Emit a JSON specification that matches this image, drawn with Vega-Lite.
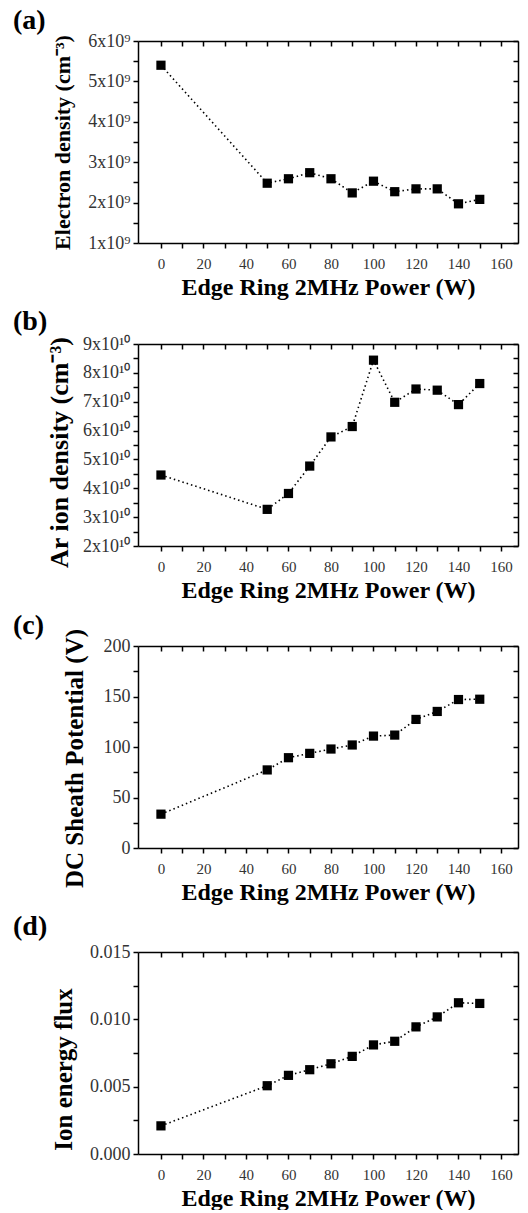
{
  "$schema": "https://vega.github.io/schema/vega-lite/v6.json",
  "padding": {"top": 7, "left": 13, "right": 9, "bottom": 0},
  "spacing": 9,
  "background": "white",
  "config": {
    "view": {"stroke": null},
    "font": "Liberation Serif",
    "axis": {
      "grid": false,
      "labelFont": "Liberation Serif",
      "titleFont": "Liberation Serif",
      "titleFontWeight": "bold",
      "titleColor": "black",
      "labelColor": "#333",
      "domainColor": "black",
      "domainWidth": 1.5,
      "tickColor": "black",
      "tickWidth": 1.5
    },
    "title": {"font": "Liberation Serif", "fontWeight": "bold", "fontSize": 28, "color": "black", "anchor": "start", "frame": "group", "dx": -125, "baseline": "bottom"}
  },
  "datasets": {
    "main": [
      {"power": 0, "ne": 5400000000, "ni": 44600000000, "vdc": 33.5, "flux": 0.00209},
      {"power": 50, "ne": 2480000000, "ni": 32700000000, "vdc": 77.3, "flux": 0.00507},
      {"power": 60, "ne": 2590000000, "ni": 38200000000, "vdc": 89.4, "flux": 0.00584},
      {"power": 70, "ne": 2740000000, "ni": 47700000000, "vdc": 93.7, "flux": 0.00626},
      {"power": 80, "ne": 2590000000, "ni": 57800000000, "vdc": 98.0, "flux": 0.0067},
      {"power": 90, "ne": 2240000000, "ni": 61400000000, "vdc": 102.0, "flux": 0.00725},
      {"power": 100, "ne": 2530000000, "ni": 84400000000, "vdc": 110.8, "flux": 0.0081},
      {"power": 110, "ne": 2270000000, "ni": 69800000000, "vdc": 111.8, "flux": 0.00837},
      {"power": 120, "ne": 2340000000, "ni": 74400000000, "vdc": 127.3, "flux": 0.00944},
      {"power": 130, "ne": 2340000000, "ni": 74000000000, "vdc": 135.2, "flux": 0.01018},
      {"power": 140, "ne": 1970000000, "ni": 69000000000, "vdc": 147.0, "flux": 0.01123},
      {"power": 150, "ne": 2080000000, "ni": 76300000000, "vdc": 147.3, "flux": 0.01118}
    ]
  },
  "vconcat": [
    {
      "title": {"text": "(a)", "offset": -3},
      "width": 380, "height": 202,
      "data": {"name": "main"},
      "resolve": {"axis": {"x": "independent", "y": "independent"}},
      "layer": [
        {
          "mark": {"type": "line", "color": "black", "strokeDash": [1.5, 3], "strokeWidth": 1.6},
          "encoding": {
            "x": {"field": "power", "type": "quantitative", "scale": {"domain": [-10.8, 168], "nice": false, "zero": false},
              "axis": {"orient": "bottom", "title": "Edge Ring 2MHz Power (W)", "titleFontSize": 24, "titlePadding": 4, "labelFontSize": 15, "labelPadding": 8, "tickSize": 5, "values": [0,10,20,30,40,50,60,70,80,90,100,110,120,130,140,150,160], "labelExpr": "datum.value % 20 === 0 ? datum.label : ''"}},
            "y": {"field": "ne", "type": "quantitative", "scale": {"domain": [1000000000, 6000000000], "nice": false, "zero": false},
              "axis": {"orient": "left", "title": "Electron density (cm⁻³)", "titleFontSize": 22, "titlePadding": 13, "labelFontSize": 18, "labelPadding": 3, "tickSize": 5, "values": [1000000000,1500000000,2000000000,2500000000,3000000000,3500000000,4000000000,4500000000,5000000000,5500000000,6000000000], "labelExpr": "(datum.value / 1e9) % 1 === 0 ? format(datum.value / 1e9, 'd') + 'x10⁹' : ''"}}
          }
        },
        {
          "mark": {"type": "square", "filled": true, "color": "black", "size": 85, "opacity": 1},
          "encoding": {
            "x": {"field": "power", "type": "quantitative", "scale": {"domain": [-10.8, 168], "nice": false, "zero": false},
              "axis": {"orient": "top", "title": null, "labels": false, "tickSize": -5, "values": [0,10,20,30,40,50,60,70,80,90,100,110,120,130,140,150,160]}},
            "y": {"field": "ne", "type": "quantitative", "scale": {"domain": [1000000000, 6000000000], "nice": false, "zero": false},
              "axis": {"orient": "right", "title": null, "labels": false, "tickSize": -5, "values": [1000000000,1500000000,2000000000,2500000000,3000000000,3500000000,4000000000,4500000000,5000000000,5500000000,6000000000]}}
          }
        }
      ]
    },
    {
      "title": {"text": "(b)", "offset": -1},
      "width": 380, "height": 202,
      "data": {"name": "main"},
      "resolve": {"axis": {"x": "independent", "y": "independent"}},
      "layer": [
        {
          "mark": {"type": "line", "color": "black", "strokeDash": [1.5, 3], "strokeWidth": 1.6},
          "encoding": {
            "x": {"field": "power", "type": "quantitative", "scale": {"domain": [-10.8, 168], "nice": false, "zero": false},
              "axis": {"orient": "bottom", "title": "Edge Ring 2MHz Power (W)", "titleFontSize": 24, "titlePadding": 4, "labelFontSize": 15, "labelPadding": 8, "tickSize": 5, "values": [0,10,20,30,40,50,60,70,80,90,100,110,120,130,140,150,160], "labelExpr": "datum.value % 20 === 0 ? datum.label : ''"}},
            "y": {"field": "ni", "type": "quantitative", "scale": {"domain": [20000000000, 90000000000], "nice": false, "zero": false},
              "axis": {"orient": "left", "title": "Ar ion density (cm⁻³)", "titleFontSize": 26, "titlePadding": 10, "titleY": 108, "labelFontSize": 18, "labelPadding": 3, "tickSize": 5, "values": [20000000000,25000000000,30000000000,35000000000,40000000000,45000000000,50000000000,55000000000,60000000000,65000000000,70000000000,75000000000,80000000000,85000000000,90000000000], "labelExpr": "(datum.value / 1e10) % 1 === 0 ? format(datum.value / 1e10, 'd') + 'x10¹⁰' : ''"}}
          }
        },
        {
          "mark": {"type": "square", "filled": true, "color": "black", "size": 85, "opacity": 1},
          "encoding": {
            "x": {"field": "power", "type": "quantitative", "scale": {"domain": [-10.8, 168], "nice": false, "zero": false},
              "axis": {"orient": "top", "title": null, "labels": false, "tickSize": -5, "values": [0,10,20,30,40,50,60,70,80,90,100,110,120,130,140,150,160]}},
            "y": {"field": "ni", "type": "quantitative", "scale": {"domain": [20000000000, 90000000000], "nice": false, "zero": false},
              "axis": {"orient": "right", "title": null, "labels": false, "tickSize": -5, "values": [20000000000,25000000000,30000000000,35000000000,40000000000,45000000000,50000000000,55000000000,60000000000,65000000000,70000000000,75000000000,80000000000,85000000000,90000000000]}}
          }
        }
      ]
    },
    {
      "title": {"text": "(c)", "offset": -11.5},
      "width": 380, "height": 202,
      "data": {"name": "main"},
      "resolve": {"axis": {"x": "independent", "y": "independent"}},
      "layer": [
        {
          "mark": {"type": "line", "color": "black", "strokeDash": [1.5, 3], "strokeWidth": 1.6},
          "encoding": {
            "x": {"field": "power", "type": "quantitative", "scale": {"domain": [-10.8, 168], "nice": false, "zero": false},
              "axis": {"orient": "bottom", "title": "Edge Ring 2MHz Power (W)", "titleFontSize": 24, "titlePadding": 4, "labelFontSize": 15, "labelPadding": 8, "tickSize": 5, "values": [0,10,20,30,40,50,60,70,80,90,100,110,120,130,140,150,160], "labelExpr": "datum.value % 20 === 0 ? datum.label : ''"}},
            "y": {"field": "vdc", "type": "quantitative", "scale": {"domain": [0, 200], "nice": false, "zero": false},
              "axis": {"orient": "left", "title": "DC Sheath Potential (V)", "titleFontSize": 25, "titlePadding": 16, "titleY": 112, "labelFontSize": 18, "labelPadding": 3, "tickSize": 5, "values": [0,25,50,75,100,125,150,175,200], "labelExpr": "datum.value % 50 === 0 ? datum.label : ''"}}
          }
        },
        {
          "mark": {"type": "square", "filled": true, "color": "black", "size": 85, "opacity": 1},
          "encoding": {
            "x": {"field": "power", "type": "quantitative", "scale": {"domain": [-10.8, 168], "nice": false, "zero": false},
              "axis": {"orient": "top", "title": null, "labels": false, "tickSize": -5, "values": [0,10,20,30,40,50,60,70,80,90,100,110,120,130,140,150,160]}},
            "y": {"field": "vdc", "type": "quantitative", "scale": {"domain": [0, 200], "nice": false, "zero": false},
              "axis": {"orient": "right", "title": null, "labels": false, "tickSize": -5, "values": [0,25,50,75,100,125,150,175,200]}}
          }
        }
      ]
    },
    {
      "title": {"text": "(d)", "offset": 2},
      "width": 380, "height": 202,
      "data": {"name": "main"},
      "resolve": {"axis": {"x": "independent", "y": "independent"}},
      "layer": [
        {
          "mark": {"type": "line", "color": "black", "strokeDash": [1.5, 3], "strokeWidth": 1.6},
          "encoding": {
            "x": {"field": "power", "type": "quantitative", "scale": {"domain": [-10.8, 168], "nice": false, "zero": false},
              "axis": {"orient": "bottom", "title": "Edge Ring 2MHz Power (W)", "titleFontSize": 24, "titlePadding": 4, "labelFontSize": 15, "labelPadding": 8, "tickSize": 5, "values": [0,10,20,30,40,50,60,70,80,90,100,110,120,130,140,150,160], "labelExpr": "datum.value % 20 === 0 ? datum.label : ''"}},
            "y": {"field": "flux", "type": "quantitative", "scale": {"domain": [0, 0.015], "nice": false, "zero": false},
              "axis": {"orient": "left", "title": "Ion energy flux", "titleFontSize": 25, "titlePadding": 13, "titleY": 117, "labelFontSize": 18, "labelPadding": 3, "tickSize": 5, "values": [0,0.0025,0.005,0.0075,0.01,0.0125,0.015], "labelExpr": "abs(datum.value / 0.005 - round(datum.value / 0.005)) < 0.000001 ? format(datum.value, '.3f') : ''"}}
          }
        },
        {
          "mark": {"type": "square", "filled": true, "color": "black", "size": 85, "opacity": 1},
          "encoding": {
            "x": {"field": "power", "type": "quantitative", "scale": {"domain": [-10.8, 168], "nice": false, "zero": false},
              "axis": {"orient": "top", "title": null, "labels": false, "tickSize": -5, "values": [0,10,20,30,40,50,60,70,80,90,100,110,120,130,140,150,160]}},
            "y": {"field": "flux", "type": "quantitative", "scale": {"domain": [0, 0.015], "nice": false, "zero": false},
              "axis": {"orient": "right", "title": null, "labels": false, "tickSize": -5, "values": [0,0.0025,0.005,0.0075,0.01,0.0125,0.015]}}
          }
        }
      ]
    }
  ]
}
